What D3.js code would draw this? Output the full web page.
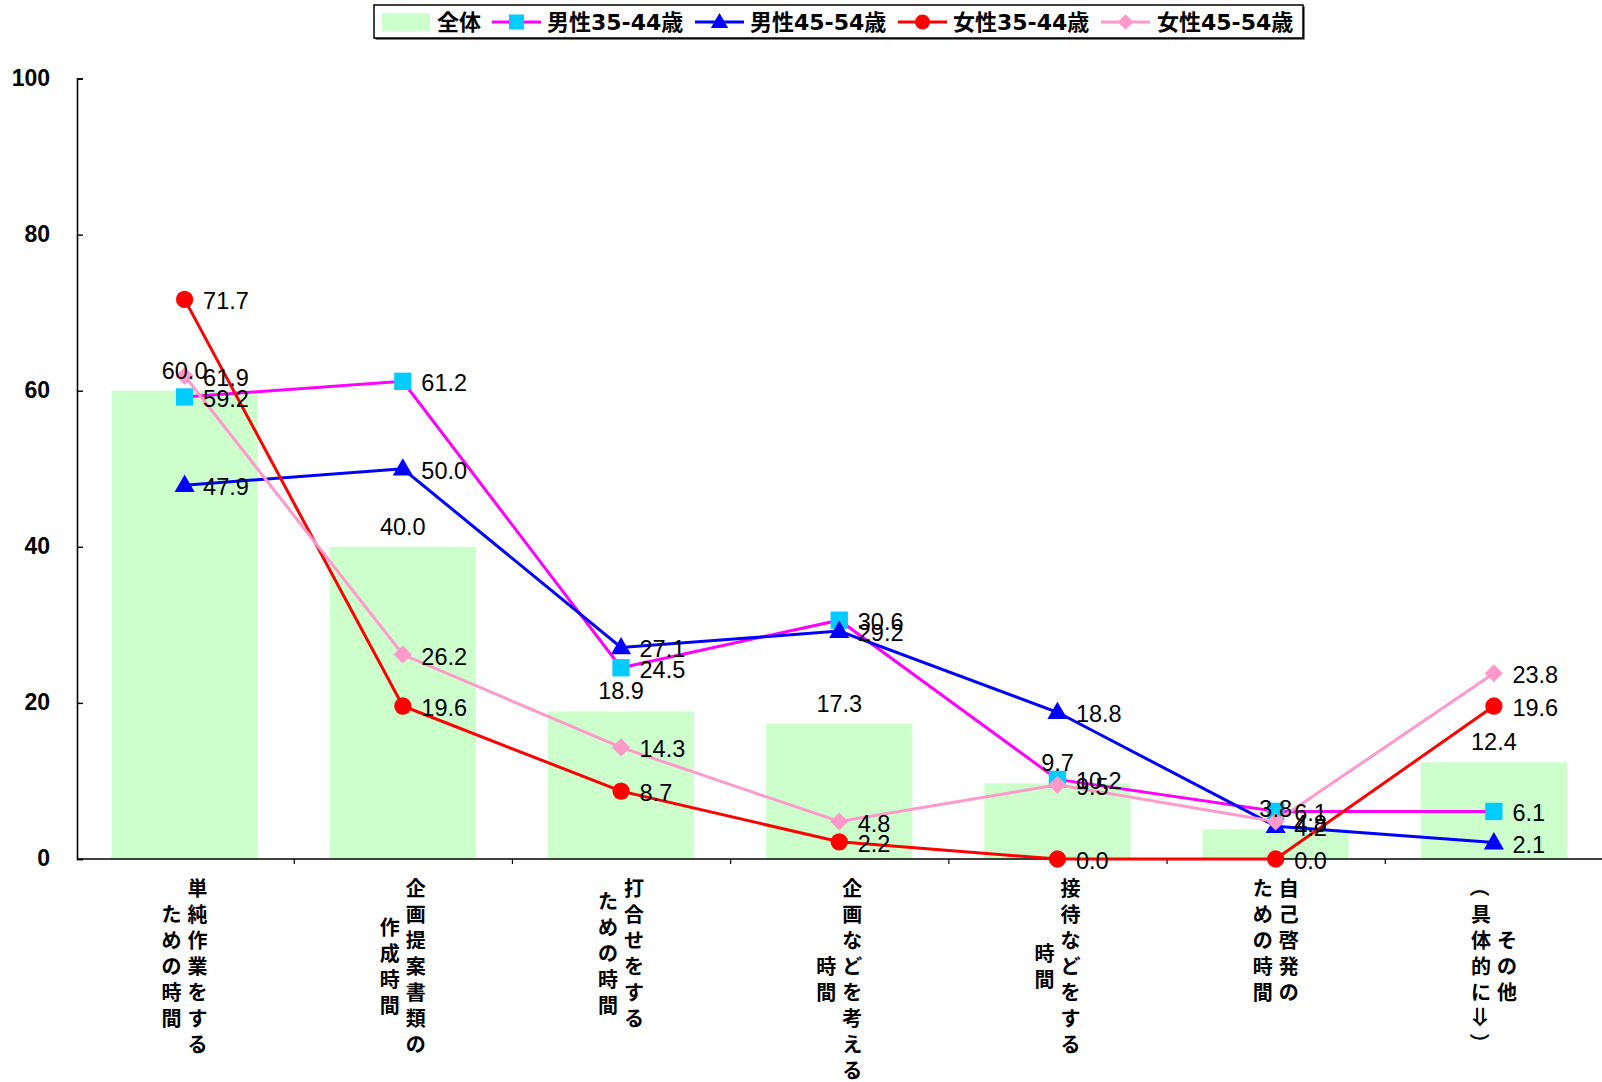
<!DOCTYPE html>
<html><head><meta charset="utf-8">
<script src="https://cdn.jsdelivr.net/npm/d3@7"></script>
<style>
html,body{margin:0;padding:0;background:#fff;}
svg{display:block;}
</style></head>
<body>
<script>
const categories = [
  ["単純作業をする","ための時間"],
  ["企画提案書類の","作成時間"],
  ["打合せをする","ための時間"],
  ["企画などを考える","時間"],
  ["接待などをする","時間"],
  ["自己啓発の","ための時間"],
  ["その他","（具体的に⇒）"]
];
const seriesNames = ["全体","男性35-44歳","男性45-54歳","女性35-44歳","女性45-54歳"];
const total      = [60.0, 40.0, 18.9, 17.3, 9.7, 3.8, 12.4];
const male3544   = [59.2, 61.2, 24.5, 30.6, 10.2, 6.1, 6.1];
const male4554   = [47.9, 50.0, 27.1, 29.2, 18.8, 4.2, 2.1];
const female3544 = [71.7, 19.6, 8.7, 2.2, 0.0, 0.0, 19.6];
const female4554 = [61.9, 26.2, 14.3, 4.8, 9.5, 4.8, 23.8];
const yTicks = [0, 20, 40, 60, 80, 100];

const W = 1602, H = 1082;
const plot = {axisX: 77, left: 75.5, right: 1603, top: 78.5, bottom: 859};

const svg = d3.select("body").append("svg").attr("width", W).attr("height", H);

const x = d3.scaleBand().domain(d3.range(categories.length)).range([plot.left, plot.right]).paddingInner(0).paddingOuter(0);
const y = d3.scaleLinear().domain([0, 100]).range([plot.bottom, plot.top]);
const cx = i => x(i) + x.bandwidth() / 2;
const barW = x.bandwidth() * 0.67;

const lineSeries = [
  {name: seriesNames[1], values: male3544, color: "#ff00ff", marker: "square", mcolor: "#00ccff"},
  {name: seriesNames[2], values: male4554, color: "#0000ff", marker: "triangle", mcolor: "#0000ff"},
  {name: seriesNames[3], values: female3544, color: "#ff0000", marker: "circle", mcolor: "#ff0000"},
  {name: seriesNames[4], values: female4554, color: "#ff99cc", marker: "diamond", mcolor: "#ff99cc"}
];

function markerPath(type, k) {
  k = k || 1;
  if (type === "square") return d3.symbol(d3.symbolSquare, 300 * k)();
  if (type === "triangle") return d3.symbol(d3.symbolTriangle, 175 * k)();
  if (type === "circle") return d3.symbol(d3.symbolCircle, 235 * k)();
  if (type === "diamond") return d3.symbol(d3.symbolSquare, 165 * k)();
}
function markerTransform(type, px, py) {
  if (type === "diamond") return `translate(${px},${py}) rotate(45)`;
  if (type === "triangle") return `translate(${px},${py + 1})`;
  return `translate(${px},${py})`;
}

// bars
svg.append("g").selectAll("rect").data(total).join("rect")
  .attr("x", (d, i) => cx(i) - barW / 2)
  .attr("y", d => y(d))
  .attr("width", barW)
  .attr("height", d => y(0) - y(d))
  .attr("fill", "#ccffcc");

// axes
const yAxis = d3.axisLeft(y).tickValues(yTicks).tickSize(-6).tickPadding(27).tickFormat(d3.format("d"));
const gy = svg.append("g").attr("transform", `translate(${plot.axisX},0)`).call(yAxis);
gy.select(".domain").attr("stroke", "#000").attr("stroke-width", 1.6);
gy.selectAll(".tick line").attr("stroke", "#000").attr("stroke-width", 1.4);
gy.selectAll(".tick text").attr("font-family", "'Liberation Sans', Arial, sans-serif").attr("font-weight", "bold")
  .attr("font-size", 23).attr("fill", "#000").attr("dy", "0.3em");

const xb = d3.scaleLinear().domain([0, categories.length]).range([plot.left, plot.right]);
const xAxis = d3.axisBottom(xb).tickValues(d3.range(1, categories.length)).tickSize(5).tickFormat("");
const gx = svg.append("g").attr("transform", `translate(0,${plot.bottom})`).call(xAxis);
gx.select(".domain").attr("stroke", "#000").attr("stroke-width", 1.6)
  .attr("d", `M${plot.axisX},0H${plot.right}`);
gx.selectAll(".tick line").attr("stroke", "#000").attr("stroke-width", 1.2);

// lines + markers
const line = d3.line().x((d, i) => cx(i)).y(d => y(d));
lineSeries.forEach(s => {
  svg.append("path").datum(s.values).attr("d", line)
    .attr("fill", "none").attr("stroke", s.color).attr("stroke-width", 3);
  svg.append("g").selectAll("path").data(s.values).join("path")
    .attr("d", markerPath(s.marker))
    .attr("transform", (d, i) => markerTransform(s.marker, cx(i), y(d)))
    .attr("fill", s.mcolor);
});

// data labels
const fmt = d3.format(".1f");
const labels = svg.append("g").attr("font-family", "'Liberation Sans', Arial, sans-serif").attr("font-size", 23.5).attr("fill", "#000");
labels.selectAll("text.bar").data(total).join("text").attr("class", "bar")
  .attr("x", (d, i) => cx(i)).attr("y", d => y(d) - 12)
  .attr("text-anchor", "middle").text(d => fmt(d));
lineSeries.forEach(s => {
  labels.append("g").selectAll("text").data(s.values).join("text")
    .attr("x", (d, i) => cx(i) + 18.5).attr("y", d => y(d) + 2)
    .attr("dominant-baseline", "central").text(d => fmt(d));
});

// category labels (vertical Japanese, columns right to left)
const pitch = 26, colGap = 26, labelTop = 887;
const rotated = new Set(["（", "）", "⇒"]);
const catG = svg.append("g").attr("font-family", "'Noto Sans CJK JP', sans-serif").attr("font-weight", "bold")
  .attr("font-size", 20).attr("fill", "#000");
categories.forEach((lines, i) => {
  const maxLen = d3.max(lines, l => Array.from(l).length);
  const n = lines.length;
  lines.forEach((ln, j) => {
    const colX = cx(i) + ((n - 1) / 2 - j) * colGap;
    const chars = Array.from(ln);
    const startY = labelTop + (maxLen - chars.length) / 2 * pitch;
    const col = catG.append("g").attr("class", "catcol");
    chars.forEach((ch, k) => {
      const cy = startY + k * pitch;
      const t = col.append("text").attr("x", colX).attr("y", cy)
        .attr("text-anchor", "middle").attr("dominant-baseline", "central").text(ch);
      if (rotated.has(ch)) t.attr("transform", `rotate(90,${colX},${cy})`);
    });
  });
});

// legend
const lg = svg.append("g");
lg.append("rect").attr("x", 375.5).attr("y", 6.5).attr("width", 929).attr("height", 33).attr("fill", "#000");
lg.append("rect").attr("x", 374).attr("y", 5).attr("width", 929).attr("height", 33)
  .attr("fill", "#fff").attr("stroke", "#000").attr("stroke-width", 1.5);
const legY = 22;
lg.append("rect").attr("x", 382).attr("y", 13).attr("width", 48).attr("height", 18).attr("fill", "#ccffcc");
const legTextX = [437, 547, 750, 953, 1157];
const legLineX = [null, 492, 695, 898, 1101];
seriesNames.forEach((nm, k) => {
  lg.append("text").attr("x", legTextX[k]).attr("y", legY).attr("dominant-baseline", "central")
    .attr("font-family", "'DejaVu Sans', 'Noto Sans CJK JP', sans-serif")
    .attr("font-weight", "bold").attr("font-size", 22).attr("fill", "#000").text(nm);
  if (k > 0) {
    const s = lineSeries[k - 1];
    lg.append("line").attr("x1", legLineX[k]).attr("x2", legLineX[k] + 49).attr("y1", legY).attr("y2", legY)
      .attr("stroke", s.color).attr("stroke-width", 3);
    lg.append("path").attr("d", markerPath(s.marker, 0.75))
      .attr("transform", markerTransform(s.marker, legLineX[k] + 24.5, legY)).attr("fill", s.mcolor);
  }
});
</script>
</body></html>
